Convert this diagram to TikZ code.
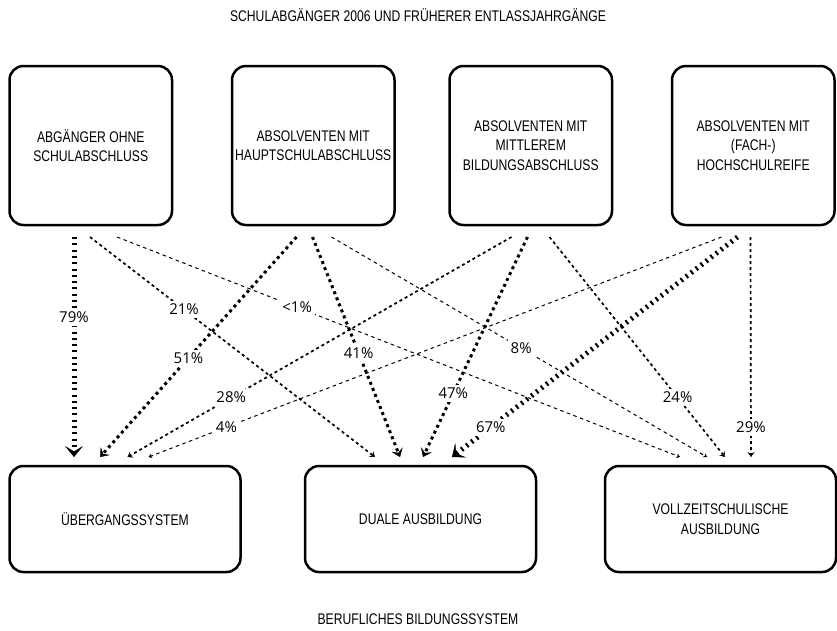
\documentclass[tikz,border=0pt]{standalone}
\usepackage{fontspec}
\setmainfont{Liberation Sans}[FakeStretch=0.79]
\newfontfamily\pctfont{Open Sans}
\usepackage{tikz}
\usetikzlibrary{arrows.meta, positioning}

\begin{document}
\begin{tikzpicture}[
    x=1pt, y=-1pt,
    node distance=60pt,
    destbox/.style={rectangle, draw, line width=2.5pt, rounded corners=14pt, outer sep=0pt, inner sep=2pt, minimum width=231pt, minimum height=106pt, align=center, font=\fontsize{15.4}{19.5}\selectfont},
    srcbox/.style={destbox, minimum width=162.5pt, minimum height=159pt, execute at begin node={\rule{0pt}{24pt}}},
    heading/.style={font=\fontsize{15.4}{17}\selectfont},
    pct/.style={fill=white, inner sep=3pt, font=\pctfont\fontsize{15}{17}\selectfont},
    flowXL/.style={line width=5pt, dash pattern=on 2pt off 4.3pt, -{Stealth[length=11pt, width=18pt, inset=5.5pt, line width=0.4pt]}},
    flowL/.style={line width=3pt, dash pattern=on 3pt off 3.5pt, -{Stealth[length=8pt, width=12pt, inset=3.5pt, line width=0.4pt]}},
    flowM/.style={line width=1.7pt, dash pattern=on 3pt off 3pt, -{Stealth[length=5pt, width=7pt, inset=2pt, line width=0.4pt]}},
    flowS/.style={line width=1pt, dash pattern=on 3.5pt off 3.5pt, -{Stealth[length=3.5pt, width=4.5pt, inset=1pt, line width=0.3pt]}}
]
\useasboundingbox (0,0) rectangle (837,630);

\node[heading] (schule) at (418,15) {SCHULABGÄNGER 2006 UND FRÜHERER ENTLASSJAHRGÄNGE};
\node[heading] (beruf) at (418,619) {BERUFLICHES BILDUNGSSYSTEM};

\node[srcbox] (ohne) at (90.75,145.5) {ABGÄNGER OHNE\\SCHULABSCHLUSS};
\node[srcbox, right=60pt of ohne] (haupt) {ABSOLVENTEN MIT\\HAUPTSCHULABSCHLUSS};
\node[srcbox, right=55pt of haupt] (mittel) {ABSOLVENTEN MIT\\MITTLEREM\\BILDUNGSABSCHLUSS};
\node[srcbox, right=60pt of mittel] (hoch) {ABSOLVENTEN MIT\\(FACH-)\\HOCHSCHULREIFE};

\node[destbox] (ueber) at (125,519) {ÜBERGANGSSYSTEM};
\node[destbox, right=64.5pt of ueber] (dual) {DUALE AUSBILDUNG};
\node[destbox, right=69pt of dual] (vollzeit) {VOLLZEITSCHULISCHE\\AUSBILDUNG};

\draw[flowS] ([xshift=107.5pt, yshift=-12pt]ohne.south west) -- node[pct, pos=.32] (p1) {<1\%} ([xshift=75pt, yshift=9pt]vollzeit.north west);
\draw[flowS] ([xshift=99.5pt, yshift=-12pt]haupt.south west) -- node[pct, pos=.505] (p8) {8\%} ([xshift=102pt, yshift=9pt]vollzeit.north west);
\draw[flowS] ([xshift=49.5pt, yshift=-12pt]hoch.south west) -- node[pct, pos=.864] (p4) {4\%} ([xshift=139pt, yshift=9pt]ueber.north west);

\draw[flowM] ([xshift=80.5pt, yshift=-12pt]ohne.south west) -- node[pct, pos=.33] (p21) {21\%} ([xshift=70pt, yshift=9pt]dual.north west);
\draw[flowM] ([xshift=62pt, yshift=-12pt]mittel.south west) -- node[pct, pos=.73] (p28) {28\%} ([xshift=118pt, yshift=9pt]ueber.north west);
\draw[flowM] ([xshift=100pt, yshift=-12pt]mittel.south west) -- node[pct, pos=.73] (p24) {24\%} ([xshift=120pt, yshift=9pt]vollzeit.north west);
\draw[flowM] ([xshift=78.5pt, yshift=-12pt]hoch.south west) -- node[pct, pos=.864] (p29) {29\%} ([xshift=146pt, yshift=9pt]vollzeit.north west);

\draw[flowL] ([xshift=64.5pt, yshift=-12pt]haupt.south west) -- node[pct, pos=.55] (p51) {51\%} ([xshift=90.5pt, yshift=9pt]ueber.north west);
\draw[flowL] ([xshift=80.5pt, yshift=-12pt]haupt.south west) -- node[pct, pos=.527] (p41) {41\%} ([xshift=95pt, yshift=9pt]dual.north west);
\draw[flowL] ([xshift=78pt, yshift=-12pt]mittel.south west) -- node[pct, pos=.71] (p47) {47\%} ([xshift=118pt, yshift=9pt]dual.north west);

\draw[flowXL] ([xshift=64.5pt, yshift=-12pt]ohne.south west) -- node[pct, pos=.364] (p79) {79\%} ([xshift=64.5pt, yshift=9pt]ueber.north west);
\draw[flowXL] ([xshift=65.5pt, yshift=-12pt]hoch.south west) -- node[pct, pos=.864] (p67) {67\%} ([xshift=147pt, yshift=9pt]dual.north west);

\end{tikzpicture}
\end{document}
